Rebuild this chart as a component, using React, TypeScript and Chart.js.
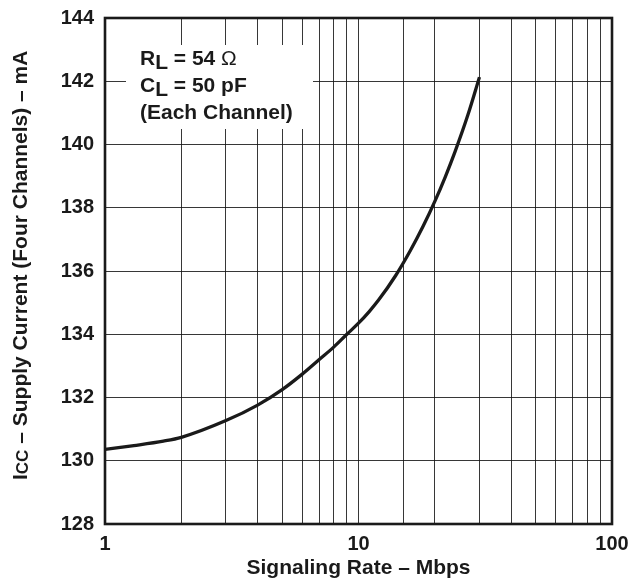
import React, { useEffect, useRef } from "react";
import { Chart, registerables } from "chart.js";

Chart.register(...registerables);

// Signaling rate (Mbps) and supply current (mA)
const rates = [1, 1.3, 1.7, 2, 3, 4, 5, 6, 7, 8, 9, 10, 11, 12, 14, 16, 18, 20, 22, 24, 27, 30];
const icc = [130.36, 130.48, 130.62, 130.74, 131.27, 131.76, 132.25, 132.74, 133.2, 133.6, 134.0, 134.35, 134.71, 135.08, 135.85, 136.64, 137.42, 138.2, 138.98, 139.76, 140.93, 142.13];
const xTickLabels = [1, 10, 100];
const yMin = 128;
const yMax = 144;
const yStep = 2;

const FONT = '"Liberation Sans", Arial, sans-serif';
const INK = "#1a1a1a";

const overlayPlugin = {
  id: "overlay",
  beforeDatasetsDraw(chart: any) {
    const { ctx, chartArea } = chart;
    const bx = chartArea.left + 21;
    const by = chartArea.top + 27;
    ctx.save();
    ctx.fillStyle = "#ffffff";
    ctx.fillRect(bx, by, 187, 84);
    ctx.fillStyle = INK;
    ctx.textBaseline = "alphabetic";
    ctx.textAlign = "left";
    const tx = bx + 14;
    const drawSubLine = (main: string, sub: string, rest: string, omega: boolean, y: number) => {
      ctx.font = `bold 21px ${FONT}`;
      let x = tx;
      ctx.fillText(main, x, y);
      x += ctx.measureText(main).width;
      ctx.fillText(sub, x, y + 4);
      x += ctx.measureText(sub).width;
      ctx.fillText(rest, x, y);
      x += ctx.measureText(rest).width;
      if (omega) {
        ctx.font = `21px ${FONT}`;
        ctx.fillText("\u03A9", x, y);
      }
    };
    drawSubLine("R", "L", " = 54 ", true, by + 20);
    drawSubLine("C", "L", " = 50 pF", false, by + 47);
    ctx.font = `bold 21px ${FONT}`;
    ctx.fillText("(Each Channel)", tx, by + 74);
    ctx.restore();
  },
  afterDraw(chart: any) {
    const { ctx, chartArea } = chart;
    ctx.save();
    // frame
    ctx.strokeStyle = INK;
    ctx.lineWidth = 2.6;
    ctx.strokeRect(chartArea.left, chartArea.top, chartArea.right - chartArea.left, chartArea.bottom - chartArea.top);
    // x title
    ctx.fillStyle = INK;
    ctx.font = `bold 21px ${FONT}`;
    ctx.textAlign = "center";
    ctx.textBaseline = "alphabetic";
    ctx.fillText("Signaling Rate \u2013 Mbps", (chartArea.left + chartArea.right) / 2, chartArea.bottom + 50);
    // y title with subscript
    ctx.translate(26.7, 480);
    ctx.rotate(-Math.PI / 2);
    ctx.textAlign = "left";
    let x = 0;
    ctx.font = `bold 21px ${FONT}`;
    ctx.fillText("I", x, 0);
    x += ctx.measureText("I").width;
    ctx.font = `bold 17px ${FONT}`;
    ctx.fillText("CC", x, 1);
    x += ctx.measureText("CC").width;
    ctx.font = `bold 21px ${FONT}`;
    ctx.fillText(" \u2013 Supply Current (Four Channels) \u2013 mA", x, 0);
    ctx.restore();
  },
};

export default function App() {
  const canvasRef = useRef<HTMLCanvasElement | null>(null);

  useEffect(() => {
    if (!canvasRef.current) return;
    const chart = new Chart(canvasRef.current, {
      type: "line",
      data: {
        datasets: [
          {
            data: rates.map((r, i) => ({ x: r, y: icc[i] })),
            borderColor: INK,
            borderWidth: 3.3,
            pointRadius: 0,
            cubicInterpolationMode: "monotone",
            fill: false,
          },
        ],
      },
      options: {
        animation: false,
        responsive: true,
        maintainAspectRatio: false,
        layout: { padding: { left: 0, right: 19, top: 18, bottom: 0 } },
        plugins: { legend: { display: false }, tooltip: { enabled: false } },
        scales: {
          x: {
            type: "logarithmic",
            min: 1,
            max: 100,
            border: { display: false },
            grid: { color: "rgba(20,20,20,0.85)", lineWidth: 1, drawTicks: false },
            ticks: {
              autoSkip: false,
              maxRotation: 0,
              padding: 8,
              color: INK,
              font: { family: FONT, size: 20, weight: "bold" },
              callback: (v: any) => (xTickLabels.includes(Number(v)) ? String(v) : ""),
            },
            afterFit: (s: any) => {
              s.height = 62;
              s.paddingLeft = 0;
              s.paddingRight = 0;
            },
          },
          y: {
            min: yMin,
            max: yMax,
            border: { display: false },
            grid: { color: "rgba(20,20,20,0.85)", lineWidth: 1, drawTicks: false },
            ticks: {
              stepSize: yStep,
              padding: 11,
              color: INK,
              font: { family: FONT, size: 20, weight: "bold" },
            },
            afterFit: (s: any) => {
              s.width = 105;
              s.paddingTop = 0;
              s.paddingBottom = 0;
            },
          },
        },
      },
      plugins: [overlayPlugin],
    } as any);
    return () => chart.destroy();
  }, []);

  return (
    <div style={{ position: "fixed", left: 0, top: 0, width: 631, height: 586, background: "#fff" }}>
      <canvas ref={canvasRef} />
    </div>
  );
}
